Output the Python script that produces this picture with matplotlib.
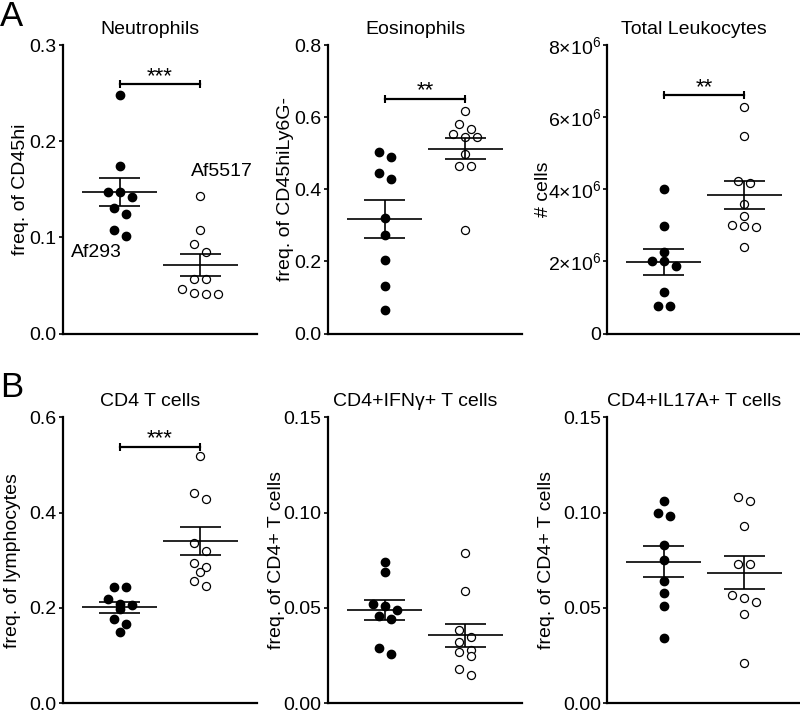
import numpy as np
import matplotlib
matplotlib.use('Agg')
import matplotlib.pyplot as plt
from matplotlib.ticker import FuncFormatter

plt.rcParams['font.family'] = ['Liberation Sans', 'DejaVu Sans']
plt.rcParams['mathtext.fontset'] = 'custom'
plt.rcParams['mathtext.rm'] = 'Liberation Sans'
plt.rcParams['mathtext.it'] = 'Liberation Sans:italic'
plt.rcParams['mathtext.bf'] = 'Liberation Sans:bold'

# values (Af293 = filled, Af5517 = open)
neut_af293 = [0.248, 0.174, 0.147, 0.147, 0.142, 0.131, 0.124, 0.108, 0.101]
neut_af5517 = [0.143, 0.108, 0.093, 0.085, 0.057, 0.057, 0.046, 0.042, 0.041, 0.041]
eos_af293 = [0.502, 0.489, 0.445, 0.429, 0.320, 0.274, 0.205, 0.131, 0.064]
eos_af5517 = [0.616, 0.581, 0.568, 0.554, 0.544, 0.544, 0.499, 0.464, 0.464, 0.288]
leuk_af293 = [4.01e6, 2.97e6, 2.27e6, 2.02e6, 2.02e6, 1.88e6, 1.14e6, 0.75e6, 0.75e6]
leuk_af5517 = [6.27e6, 5.48e6, 4.24e6, 4.16e6, 3.59e6, 3.25e6, 3.01e6, 2.97e6, 2.95e6, 2.39e6]
cd4_af293 = [0.245, 0.245, 0.218, 0.208, 0.206, 0.197, 0.176, 0.166, 0.150]
cd4_af5517 = [0.518, 0.441, 0.428, 0.336, 0.320, 0.295, 0.285, 0.276, 0.257, 0.247]
ifng_af293 = [0.074, 0.069, 0.052, 0.051, 0.049, 0.046, 0.044, 0.029, 0.026]
ifng_af5517 = [0.079, 0.059, 0.0385, 0.035, 0.032, 0.028, 0.027, 0.025, 0.018, 0.015]
il17_af293 = [0.106, 0.100, 0.098, 0.083, 0.075, 0.064, 0.058, 0.051, 0.034]
il17_af5517 = [0.108, 0.106, 0.093, 0.073, 0.073, 0.057, 0.055, 0.053, 0.047, 0.021]

titles = ['Neutrophils', 'Eosinophils', 'Total Leukocytes',
          'CD4 T cells', 'CD4+IFN\u03b3+ T cells', 'CD4+IL17A+ T cells']
ylabels = ['freq. of CD45hi', 'freq. of CD45hiLy6G-', '# cells',
           'freq. of lymphocytes', 'freq. of CD4+ T cells', 'freq. of CD4+ T cells']
yticks = [[0.0, 0.1, 0.2, 0.3], [0.0, 0.2, 0.4, 0.6, 0.8], [0, 2e6, 4e6, 6e6, 8e6],
          [0.0, 0.2, 0.4, 0.6], [0.0, 0.05, 0.10, 0.15], [0.0, 0.05, 0.10, 0.15]]
sig_stars = ['***', '**', '**', '***', None, None]
sig_y = [0.259, 0.651, 6.6e6, 0.5385, None, None]

groups = [(neut_af293, neut_af5517), (eos_af293, eos_af5517), (leuk_af293, leuk_af5517),
          (cd4_af293, cd4_af5517), (ifng_af293, ifng_af5517), (il17_af293, il17_af5517)]


def fmt_1(v, pos):
    return '%.1f' % v


def fmt_2(v, pos):
    return '%.2f' % v


def fmt_sci(v, pos):
    if v == 0:
        return '0'
    return r'$%d{\times}10^{6}$' % round(v / 1e6)


formatters = [fmt_1, fmt_1, fmt_sci, fmt_1, fmt_2, fmt_2]

# layout in pixels: (left, top, width, height)
W, H = 800, 714
cols = [63, 328, 607]
rows = [(45, 288.5), (417.3, 286)]
label_x = [-0.175, -0.175, -0.284, -0.216, -0.222, -0.268]
XMIN, XMAX = 0.3, 2.7


def swarm_offsets(vals, px_per_y, px_per_x, step=12, row_h=8):
    # Prism-like scatter: points close in y share a row and spread sideways
    vals = np.asarray(vals, float)
    order = np.argsort(-vals, kind='stable')
    offs = np.zeros(len(vals))
    bins = []
    for i in order:
        if bins and (vals[bins[-1][0]] - vals[i]) * px_per_y <= row_h:
            bins[-1].append(i)
        else:
            bins.append([i])
    for b in bins:
        n = len(b)
        for k, i in enumerate(b):
            offs[i] = (k - (n - 1) / 2) * step / px_per_x
    return offs


fig = plt.figure(figsize=(W / 100, H / 100), dpi=100)

for p in range(6):
    top, h = rows[p // 3]
    left = cols[p % 3]
    w = 194
    ax = fig.add_axes([left / W, 1 - (top + h) / H, w / W, h / H])
    ymax = yticks[p][-1]
    px_y = h / ymax
    px_x = w / (XMAX - XMIN)

    for g, vals in enumerate(groups[p]):
        x0 = g + 1
        vals = np.asarray(vals, float)
        offs = swarm_offsets(vals, px_y, px_x)
        if g == 0:
            ax.plot(x0 + offs, vals, 'o', ms=6, color='black', clip_on=False, zorder=2)
        else:
            ax.plot(x0 + offs, vals, 'o', ms=5.8, mfc='white', mec='black', mew=0.9,
                    clip_on=False, zorder=2)
        m = vals.mean()
        sem = vals.std(ddof=1) / np.sqrt(len(vals))
        ax.hlines(m, x0 - 0.46, x0 + 0.46, color='black', lw=1.2, zorder=3)
        ax.hlines([m - sem, m + sem], x0 - 0.25, x0 + 0.25, color='black', lw=1.2, zorder=3)
        ax.vlines(x0, m - sem, m + sem, color='black', lw=1.2, zorder=3)

    if sig_stars[p]:
        ax.plot([1, 2], [sig_y[p], sig_y[p]], color='black', lw=1.6, marker='|',
                ms=6, mew=1.5, clip_on=False)
        ax.annotate(sig_stars[p], xy=(1.5, sig_y[p]), xytext=(0, 1.5),
                    textcoords='offset points', ha='center', va='baseline', fontsize=16)

    ax.set_xlim(XMIN, XMAX)
    ax.set_ylim(0, ymax)
    ax.set_xticks([])
    ax.set_yticks(yticks[p])
    ax.yaxis.set_major_formatter(FuncFormatter(formatters[p]))
    ax.tick_params(axis='y', length=3, width=1.2, pad=1.5, labelsize=14)
    for s in ['top', 'right']:
        ax.spines[s].set_visible(False)
    for s in ['left', 'bottom']:
        ax.spines[s].set_linewidth(1.6)
    ax.set_title(titles[p], x=0.45, pad=8, fontsize=14)
    ax.set_ylabel(ylabels[p], fontsize=14)
    ax.yaxis.set_label_coords(label_x[p], 0.5)

    if p == 0:
        ax.text(0.708, 0.0839, 'Af293', ha='center', va='center', fontsize=14)
        ax.text(2.264, 0.168, 'Af5517', ha='center', va='center', fontsize=14)

fig.text(0.0, 1 - 0.5 / H, 'A', fontsize=25, va='top', ha='left')
fig.text(0.0, 1 - 371 / H, 'B', fontsize=25, va='top', ha='left')

fig.savefig('out.png', dpi=100)
